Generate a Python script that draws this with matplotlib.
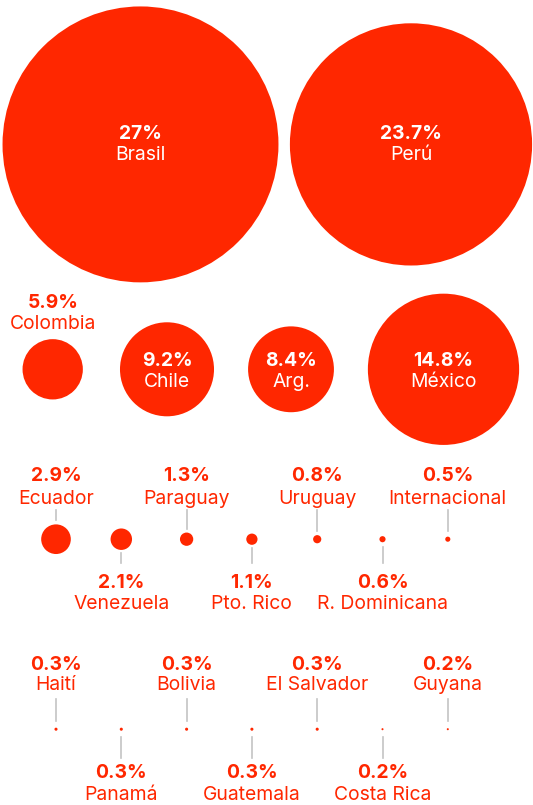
import matplotlib
matplotlib.use('Agg')
import matplotlib.pyplot as plt
from matplotlib.patches import Circle

plt.rcParams['font.family'] = ['Inter', 'DejaVu Sans']

RED = '#ff2700'
GREY = '#c4c4c4'
PX_PER_PCT = 5.11  # circle radius per percentage point

# big circles (label inside)
big_names = ['Brasil', 'Perú', 'Colombia', 'Chile', 'Arg.', 'México']
big_values = [27, 23.7, 5.9, 9.2, 8.4, 14.8]
big_labels = ['27%', '23.7%', '5.9%', '9.2%', '8.4%', '14.8%']

# small circles, row 3 and row 4
row3_names = ['Ecuador', 'Venezuela', 'Paraguay', 'Pto. Rico', 'Uruguay',
              'R. Dominicana', 'Internacional']
row3_values = [2.9, 2.1, 1.3, 1.1, 0.8, 0.6, 0.5]
row4_names = ['Haití', 'Panamá', 'Bolivia', 'Guatemala', 'El Salvador',
              'Costa Rica', 'Guyana']
row4_values = [0.3, 0.3, 0.3, 0.3, 0.3, 0.2, 0.2]

# layout (pixels)
big_x = [140.5, 411, 52.7, 167, 291, 443.5]
big_y = [144.4, 144.4, 369.3, 369.3, 369.3, 369.3]
small_x0, small_dx = 56, 65.3


def fmt(v):
    return f'{v:g}%'


fig = plt.figure(figsize=(5.33, 8.05), dpi=100)
ax = fig.add_axes([0, 0, 1, 1])
ax.set_xlim(0, 533)
ax.set_ylim(805, 0)
ax.set_aspect('equal')
ax.axis('off')

fs = 13.9

for name, v, lab, x, y in zip(big_names, big_values, big_labels, big_x, big_y):
    r = v * PX_PER_PCT
    ax.add_patch(Circle((x, y), r, color=RED, lw=0))
    if r > 35:
        off = -5 if y < 200 else -3
        ax.text(x, y + off, lab, color='white', fontsize=fs, fontweight='bold',
                ha='center', va='baseline')
        ax.text(x, y + off + 20.7, name, color='white', fontsize=fs,
                ha='center', va='baseline')
    else:
        ax.text(x, 308, lab, color=RED, fontsize=fs, fontweight='bold',
                ha='center', va='baseline')
        ax.text(x, 329, name, color=RED, fontsize=fs,
                ha='center', va='baseline')

rows = [
    (row3_names, row3_values, 539.2, 510, 563, (481, 503.5, 588, 608.5)),
    (row4_names, row4_values, 729.2, 699, 758, (670, 690, 778, 800)),
]
for names, values, cy, line_top, line_bot, (tp, tn, bp, bn) in rows:
    for i, (name, v) in enumerate(zip(names, values)):
        x = small_x0 + i * small_dx
        r = v * PX_PER_PCT
        ax.add_patch(Circle((x, cy), r, color=RED, lw=0))
        if i % 2 == 0:
            ax.plot([x, x], [line_top, cy - max(r + 4, 8)], color=GREY, lw=1.2)
            ax.text(x, tp, fmt(v), color=RED, fontsize=fs, fontweight='bold',
                    ha='center', va='baseline')
            ax.text(x, tn, name, color=RED, fontsize=fs,
                    ha='center', va='baseline')
        else:
            ax.plot([x, x], [cy + max(r + 3, 7.5), line_bot], color=GREY, lw=1.2)
            ax.text(x, bp, fmt(v), color=RED, fontsize=fs, fontweight='bold',
                    ha='center', va='baseline')
            ax.text(x, bn, name, color=RED, fontsize=fs,
                    ha='center', va='baseline')

fig.savefig('out.png', dpi=100)
